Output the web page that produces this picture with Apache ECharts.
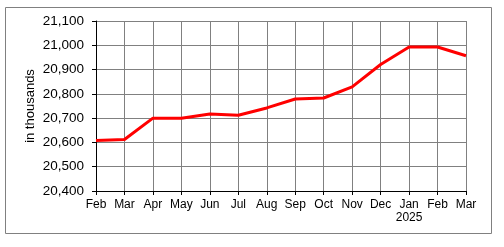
<!DOCTYPE html>
<html>
<head>
<meta charset="utf-8">
<script src="https://cdn.jsdelivr.net/npm/echarts@6/dist/echarts.min.js"></script>
<style>html,body{margin:0;padding:0;background:#fff;}#c{width:504px;height:247px;}</style>
</head>
<body>
<div id="c"></div>
<script>
var categories = ['Feb','Mar','Apr','May','Jun','Jul','Aug','Sep','Oct','Nov','Dec','Jan','Feb','Mar'];
var yearLabels = ['','','','','','','','','','','','2025','',''];
var values = [20608, 20612, 20700, 20700, 20717, 20712, 20742, 20779, 20783, 20829, 20921, 20993, 20993, 20957];
var yMin = 20400, yMax = 21100, yStep = 100;

var chart = echarts.init(document.getElementById('c'), null, {renderer: 'canvas'});
chart.setOption({
  animation: false,
  graphic: [{
    type: 'rect', shape: {x: 5.5, y: 7.5, width: 486, height: 226},
    style: {fill: 'none', stroke: '#808080', lineWidth: 1}, silent: true
  }],
  grid: {left: 96, right: 38, top: 21, bottom: 56, containLabel: false},
  xAxis: {
    type: 'category', data: categories, boundaryGap: false,
    axisLine: {lineStyle: {color: '#000', width: 1}},
    axisTick: {show: true, length: 4, lineStyle: {color: '#000'}},
    axisLabel: {
      color: '#000', fontFamily: 'Liberation Sans, Arial', fontSize: 12, margin: 7,
      lineHeight: 13, interval: 0,
      formatter: function (v, i) { return yearLabels[i] ? v + '\n' + yearLabels[i] : v; }
    },
    splitLine: {show: true, lineStyle: {color: '#808080', width: 1}}
  },
  yAxis: {
    type: 'value', min: yMin, max: yMax, interval: yStep,
    name: 'in thousands', nameLocation: 'middle', nameGap: 59, nameRotate: 90,
    nameMoveOverlap: false,
    nameTextStyle: {color: '#000', fontFamily: 'Liberation Sans, Arial', fontSize: 13},
    axisLine: {show: true, lineStyle: {color: '#000', width: 1}},
    axisTick: {show: true, length: 4, lineStyle: {color: '#000'}},
    axisLabel: {
      color: '#000', fontFamily: 'Liberation Sans, Arial', fontSize: 13.5, margin: 12,
      formatter: function (v) { return v.toLocaleString('en-US'); }
    },
    splitLine: {show: true, lineStyle: {color: '#808080', width: 1}}
  },
  series: [{
    type: 'line', data: values, symbol: 'none',
    lineStyle: {color: '#ff0000', width: 3}
  }]
});
</script>
</body>
</html>
